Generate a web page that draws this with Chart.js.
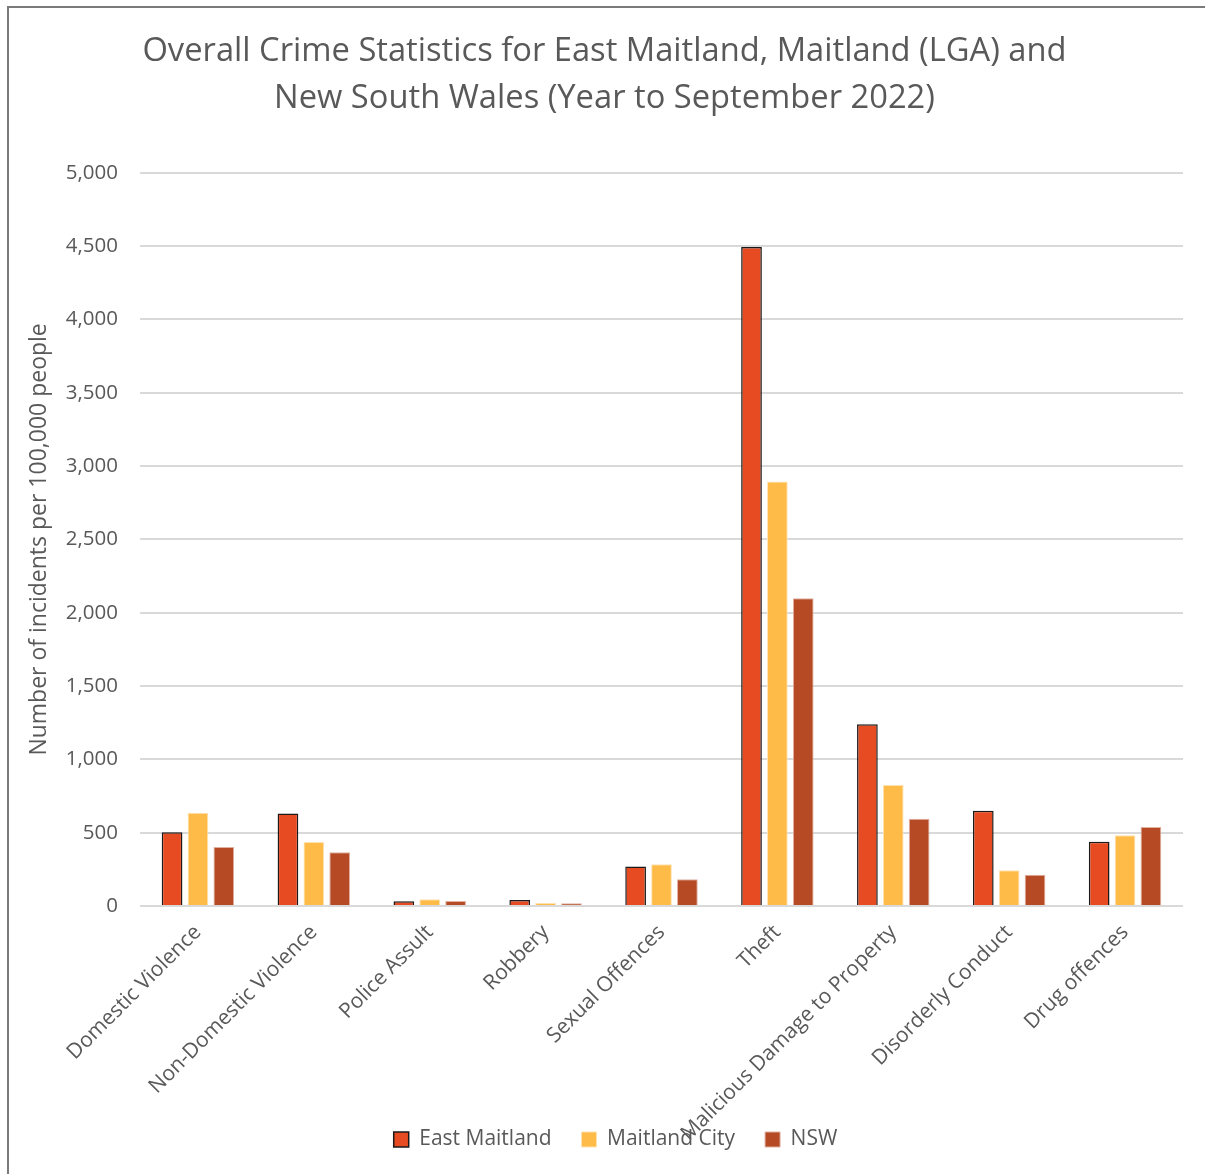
<!DOCTYPE html>
<html>
<head>
<meta charset="utf-8">
<script src="https://cdn.jsdelivr.net/npm/chart.js@4"></script>
<style>
  body { margin: 0; background: #fff; }
  #frame {
    position: absolute; left: 7px; top: 6px; width: 1198px; height: 1168px;
    border-left: 2px solid #7a7a7a; border-top: 2px solid #7a7a7a; box-sizing: border-box;
  }
  #wrap { position: absolute; left: 0; top: 0; width: 1205px; height: 1174px; }
</style>
</head>
<body>
<div id="frame"></div>
<div id="wrap"><canvas id="crimeChart" width="1205" height="1174"></canvas></div>
<script>
const categories = [
    'Domestic Violence', 'Non-Domestic Violence', 'Police Assult', 'Robbery',
    'Sexual Offences', 'Theft', 'Malicious Damage to Property', 'Disorderly Conduct', 'Drug offences'
];
const eastMaitland = [503, 631, 32, 41, 270, 4495, 1240, 649, 438];
const maitlandCity = [636, 437, 46, 20, 284, 2895, 826, 243, 482];
const nsw = [402, 366, 34, 18, 182, 2098, 595, 213, 538];

const textColor = '#595959';
const fontFamily = '"Open Sans", sans-serif';

// long x labels run down into the legend row, and the legend sits a bit right of centre
const overlapLayout = {
    id: 'overlapLayout',
    afterLayout(chart) {
        chart.scales.x.bottom += 60;
        chart.legend.left += 22;
    },
};

const ctx = document.getElementById('crimeChart').getContext('2d');
const chart = new Chart(ctx, {
    type: 'bar',
    data: {
        labels: categories,
        datasets: [
            {
                label: 'East Maitland',
                data: eastMaitland,
                backgroundColor: '#E64B22',
                borderColor: '#1a1a1a',
                borderWidth: 1.5,
            },
            {
                label: 'Maitland City',
                data: maitlandCity,
                backgroundColor: '#FFBB47',
                borderColor: '#FFE2B0',
                borderWidth: 1,
            },
            {
                label: 'NSW',
                data: nsw,
                backgroundColor: '#B54A25',
                borderColor: '#E0B0A0',
                borderWidth: 1,
            },
        ],
    },
    plugins: [overlapLayout],
    options: {
        responsive: false,
        animation: false,
        layout: {
            padding: { left: 26, right: 22, top: 28, bottom: 14 },
        },
        datasets: {
            bar: {
                categoryPercentage: 0.67,
                barPercentage: 0.8,
            },
        },
        plugins: {
            title: {
                display: true,
                text: ['Overall Crime Statistics for East Maitland, Maitland (LGA) and',
                       'New South Wales (Year to September 2022)'],
                color: textColor,
                font: { family: fontFamily, size: 32.7, weight: 'normal', lineHeight: 1.45 },
                padding: { top: 0, bottom: 50 },
            },
            legend: {
                position: 'bottom',
                labels: {
                    color: textColor,
                    font: { family: fontFamily, size: 21 },
                    boxWidth: 15,
                    boxHeight: 15,
                    padding: 30,
                },
            },
            tooltip: { enabled: false },
        },
        scales: {
            x: {
                grid: { display: false },
                border: { display: false },
                ticks: {
                    color: textColor,
                    font: { family: fontFamily, size: 21 },
                    maxRotation: 45,
                    minRotation: 45,
                    autoSkip: false,
                    padding: 6,
                },
                afterFit: (scale) => { scale.height = 193; },
            },
            y: {
                min: 0,
                max: 5000,
                grid: { color: '#d9d9d9', lineWidth: 2, drawTicks: false },
                border: { display: false },
                ticks: {
                    stepSize: 500,
                    color: textColor,
                    font: { family: fontFamily, size: 20.5 },
                    padding: 22,
                },
                title: {
                    display: true,
                    text: 'Number of incidents per 100,000 people',
                    color: textColor,
                    font: { family: fontFamily, size: 23 },
                    padding: { top: 0, bottom: 6 },
                },
                afterFit: (scale) => { scale.width = 114; },
            },
        },
    },
});
</script>
</body>
</html>
